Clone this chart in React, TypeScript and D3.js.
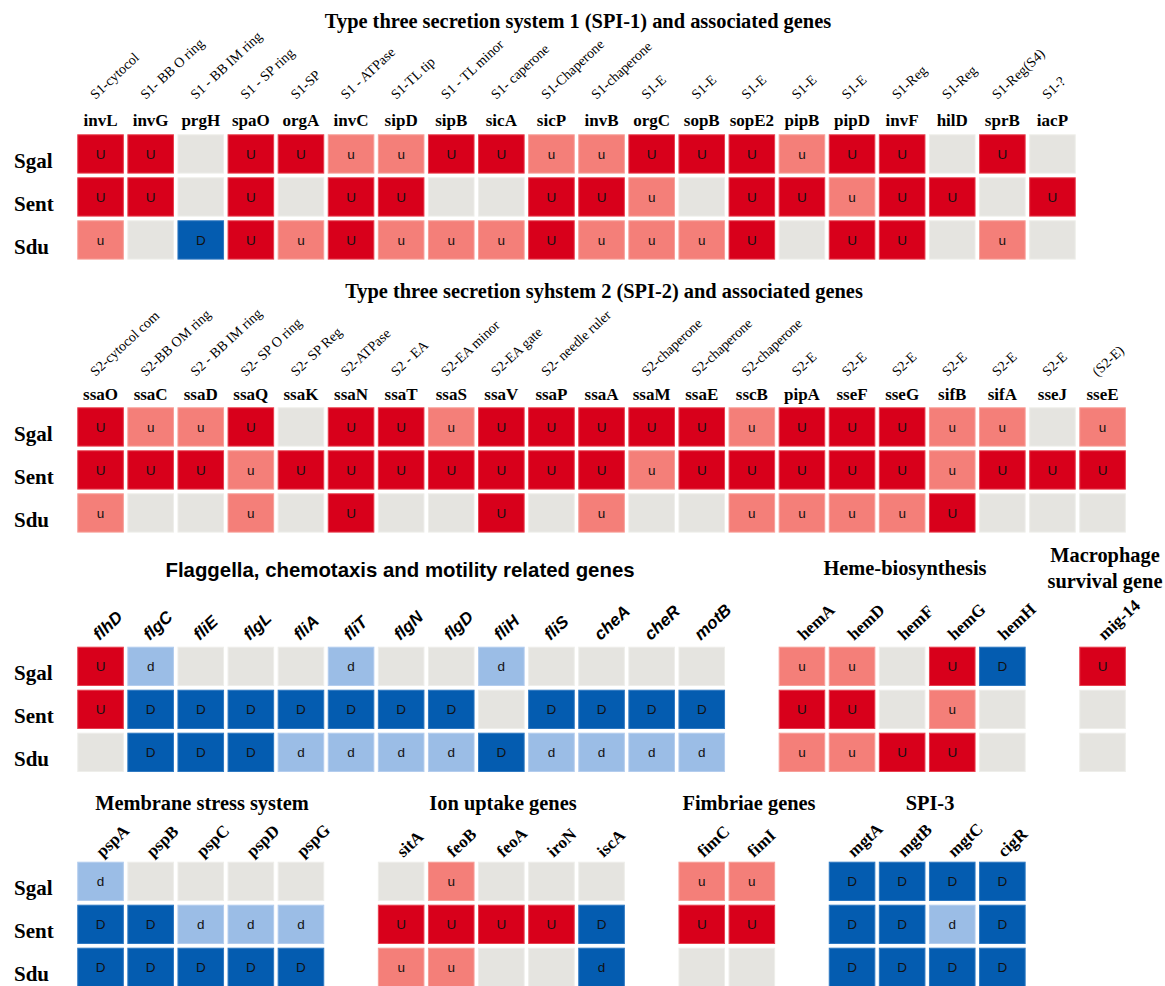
import React from "react";
import * as d3 from "d3";

// ---------- DATA ----------
const strains = ["Sgal", "Sent", "Sdu"];

// SPI-1
const spi1Genes = ["invL","invG","prgH","spaO","orgA","invC","sipD","sipB","sicA","sicP","invB","orgC","sopB","sopE2","pipB","pipD","invF","hilD","sprB","iacP"];
const spi1Notes = ["S1-cytocol","S1- BB O ring","S1 - BB IM ring","S1 - SP ring","S1-SP","S1 - ATPase","S1-TL tip","S1 - TL minor","S1- caperone","S1-Chaperone","S1-chaperone","S1-E","S1-E","S1-E","S1-E","S1-E","S1-Reg","S1-Reg","S1-Reg(S4)","S1-?"];
const spi1Sgal = ["U","U","","U","U","u","u","U","U","u","u","U","U","U","u","U","U","","U",""];
const spi1Sent = ["U","U","","U","","U","U","","","U","U","u","","U","U","u","U","U","","U"];
const spi1Sdu  = ["u","","D","U","u","U","u","u","u","U","u","u","u","U","","U","U","","u",""];

// SPI-2
const spi2Genes = ["ssaO","ssaC","ssaD","ssaQ","ssaK","ssaN","ssaT","ssaS","ssaV","ssaP","ssaA","ssaM","ssaE","sscB","pipA","sseF","sseG","sifB","sifA","sseJ","sseE"];
const spi2Notes = ["S2-cytocol com","S2-BB OM ring","S2 - BB IM ring","S2- SP O ring","S2- SP Reg","S2-ATPase","S2 - EA","S2-EA minor","S2-EA gate","S2- needle ruler","","S2-chaperone","S2-chaperone","S2-chaperone","S2-E","S2-E","S2-E","S2-E","S2-E","S2-E","(S2-E)"];
const spi2Sgal = ["U","u","u","U","","U","U","u","U","U","U","U","U","u","U","U","U","u","u","","u"];
const spi2Sent = ["U","U","U","u","U","U","U","U","U","U","U","u","U","U","U","U","U","u","U","U","U"];
const spi2Sdu  = ["u","","","u","","U","","","U","","u","","","u","u","u","u","U","","",""];

// Flagella
const flaGenes = ["flhD","flgC","fliE","flgL","fliA","fliT","flgN","flgD","fliH","fliS","cheA","cheR","motB"];
const flaSgal = ["U","d","","","","d","","","d","","","",""];
const flaSent = ["U","D","D","D","D","D","D","D","","D","D","D","D"];
const flaSdu  = ["","D","D","D","d","d","d","d","D","d","d","d","d"];

// Heme
const hemeGenes = ["hemA","hemD","hemF","hemG","hemH"];
const hemeSgal = ["u","u","","U","D"];
const hemeSent = ["U","U","","u",""];
const hemeSdu  = ["u","u","U","U",""];

// Macrophage survival
const migGenes = ["mig-14"];
const migSgal = ["U"];
const migSent = [""];
const migSdu  = [""];

// Membrane stress
const pspGenes = ["pspA","pspB","pspC","pspD","pspG"];
const pspSgal = ["d","","","",""];
const pspSent = ["D","D","d","d","d"];
const pspSdu  = ["D","D","D","D","D"];

// Ion uptake
const ionGenes = ["sitA","feoB","feoA","iroN","iscA"];
const ionSgal = ["","u","","",""];
const ionSent = ["U","U","U","U","D"];
const ionSdu  = ["u","u","","","d*"];

// Fimbriae
const fimGenes = ["fimC","fimI"];
const fimSgal = ["u","u"];
const fimSent = ["U","U"];
const fimSdu  = ["",""];

// SPI-3
const spi3Genes = ["mgtA","mgtB","mgtC","cigR"];
const spi3Sgal = ["D","D","D","D"];
const spi3Sent = ["D","D","d","D"];
const spi3Sdu  = ["D","D","D","D"];

// ---------- STYLE ----------
const SERIF = "'Liberation Serif', 'Times New Roman', Times, serif";
const SANS = "'Liberation Sans', Arial, Helvetica, sans-serif";
const fillOf: Record<string, string> = {
  U: "#d8001b",
  u: "#f47f79",
  D: "#045cb0",
  "d*": "#045cb0",
  d: "#9bbde6",
  "": "#e5e4e0",
};
const strokeOf: Record<string, string> = {
  U: "#e8404f",
  u: "#f7a09a",
  D: "#2f79c2",
  "d*": "#2f79c2",
  d: "#b4cdee",
  "": "#eeeeea",
};

const NCOL = 21;
const STEP = 50.1;
const X0 = 75.5;
const xScale = d3
  .scaleBand<number>()
  .domain(d3.range(NCOL))
  .range([X0, X0 + STEP * NCOL])
  .paddingInner(0.07)
  .paddingOuter(0.035);

const rowScale = (top: number) =>
  d3
    .scaleBand<string>()
    .domain(strains)
    .range([top - 1.85, top - 1.85 + 43 * 3])
    .paddingInner(0.086)
    .paddingOuter(0.043);

type Group = {
  genes: string[];
  rows: string[][];
  col0: number;
  top: number;
  notes?: string[];
  noteY?: number;
  labelMode: "flat" | "rotSerif" | "rotSans";
  labelY: number;
};

const groups: Group[] = [
  { genes: spi1Genes, rows: [spi1Sgal, spi1Sent, spi1Sdu], col0: 0, top: 134.3, notes: spi1Notes, noteY: 100, labelMode: "flat", labelY: 126 },
  { genes: spi2Genes, rows: [spi2Sgal, spi2Sent, spi2Sdu], col0: 0, top: 407.3, notes: spi2Notes, noteY: 377, labelMode: "flat", labelY: 399.5 },
  { genes: flaGenes, rows: [flaSgal, flaSent, flaSdu], col0: 0, top: 646.7, labelMode: "rotSans", labelY: 641 },
  { genes: hemeGenes, rows: [hemeSgal, hemeSent, hemeSdu], col0: 14, top: 646.7, labelMode: "rotSerif", labelY: 641 },
  { genes: migGenes, rows: [migSgal, migSent, migSdu], col0: 20, top: 646.7, labelMode: "rotSerif", labelY: 641 },
  { genes: pspGenes, rows: [pspSgal, pspSent, pspSdu], col0: 0, top: 861.7, labelMode: "rotSerif", labelY: 858 },
  { genes: ionGenes, rows: [ionSgal, ionSent, ionSdu], col0: 6, top: 861.7, labelMode: "rotSerif", labelY: 858 },
  { genes: fimGenes, rows: [fimSgal, fimSent, fimSdu], col0: 12, top: 861.7, labelMode: "rotSerif", labelY: 858 },
  { genes: spi3Genes, rows: [spi3Sgal, spi3Sent, spi3Sdu], col0: 15, top: 861.7, labelMode: "rotSerif", labelY: 858 },
];

const rowLabelTops = [134.3, 407.3, 646.7, 861.7];

const titles = [
  { text: "Type three secretion system 1 (SPI-1) and associated genes", x: 578, y: 27.5, font: SERIF },
  { text: "Type three secretion syhstem 2 (SPI-2) and associated genes", x: 604, y: 297.5, font: SERIF },
  { text: "Flaggella, chemotaxis and motility related genes", x: 400, y: 577, font: SANS },
  { text: "Heme-biosynthesis", x: 905, y: 575, font: SERIF },
  { text: "Macrophage", x: 1105, y: 562, font: SERIF },
  { text: "survival gene", x: 1105, y: 588, font: SERIF },
  { text: "Membrane stress system", x: 202, y: 810, font: SERIF },
  { text: "Ion uptake genes", x: 503, y: 810, font: SERIF },
  { text: "Fimbriae genes", x: 749, y: 810, font: SERIF },
  { text: "SPI-3", x: 930, y: 810, font: SERIF },
];

export default function App() {
  const bw = xScale.bandwidth();
  return (
    <svg
      width={1165}
      height={986}
      style={{ position: "absolute", left: 0, top: 0, background: "#fff" }}
    >
      <rect x={0} y={0} width={1165} height={986} fill="#fff" />
      {titles.map((t, i) => (
        <text key={"t" + i} x={t.x} y={t.y} textAnchor="middle" fontFamily={t.font} fontWeight="bold" fontSize={20.4} fill="#000">
          {t.text}
        </text>
      ))}
      {rowLabelTops.map((top, k) => {
        const ry = rowScale(top);
        return strains.map((s) => (
          <text key={"rl" + k + s} x={14} y={(ry(s) as number) + ry.bandwidth() / 2 + 14} fontFamily={SERIF} fontWeight="bold" fontSize={21} fill="#000">
            {s}
          </text>
        ));
      })}
      {groups.map((g, gi) => {
        const ry = rowScale(g.top);
        const bh = ry.bandwidth();
        return (
          <g key={"g" + gi}>
            {g.notes &&
              g.notes.map((n, i) => {
                const cx = (xScale(g.col0 + i) as number) + bw / 2;
                return n ? (
                  <text key={"n" + i} transform={`translate(${cx - 5},${g.noteY}) rotate(-43)`} fontFamily={SERIF} fontSize={14} fill="#000">
                    {n}
                  </text>
                ) : null;
              })}
            {g.genes.map((gene, i) => {
              const cx = (xScale(g.col0 + i) as number) + bw / 2;
              if (g.labelMode === "flat") {
                return (
                  <text key={"l" + i} x={cx} y={g.labelY} textAnchor="middle" fontFamily={SERIF} fontWeight="bold" fontSize={17} fill="#000">
                    {gene}
                  </text>
                );
              }
              const sans = g.labelMode === "rotSans";
              return (
                <text
                  key={"l" + i}
                  transform={`translate(${cx + (sans ? -1 : 2)},${g.labelY}) rotate(-43)`}
                  fontFamily={sans ? SANS : SERIF}
                  fontStyle={sans ? "italic" : "normal"}
                  fontWeight="bold"
                  fontSize={17}
                  fill="#000"
                >
                  {gene}
                </text>
              );
            })}
            {g.rows.map((vals, r) =>
              vals.map((v, i) => {
                const x0 = xScale(g.col0 + i) as number;
                const y0 = ry(strains[r]) as number;
                return (
                  <g key={"c" + r + "_" + i}>
                    <rect x={x0 + 0.5} y={y0 + 0.5} width={bw - 1} height={bh - 1} fill={fillOf[v]} stroke={strokeOf[v]} strokeWidth={1} />
                    {v && (
                      <text x={x0 + bw / 2} y={y0 + bh / 2 + 5} textAnchor="middle" fontFamily={SANS} fontSize={13.5} fill="#111">
                        {v === "d*" ? "d" : v}
                      </text>
                    )}
                  </g>
                );
              })
            )}
          </g>
        );
      })}
    </svg>
  );
}
